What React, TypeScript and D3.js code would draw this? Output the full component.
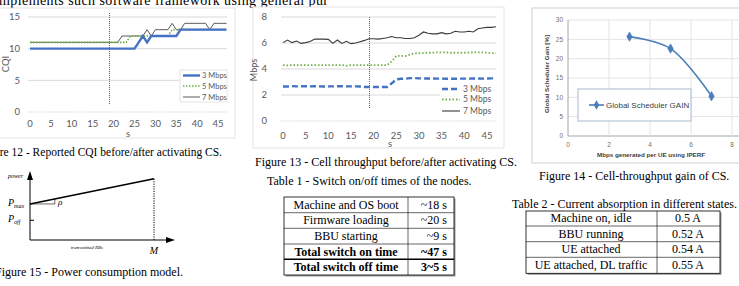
import React from 'react';
import * as d3 from 'd3';

// ---- data ----
const seconds = d3.range(0, 48);
const secondTicks = [0, 5, 10, 15, 20, 25, 30, 35, 40, 45];
const activationSecond = 19;

const cqiTicks = [0, 5, 10, 15];
const cqi3 = [10, 10, 10, 10, 10, 10, 10, 10, 10, 10, 10, 10, 10, 10, 10, 10, 10, 10, 10, 10, 10, 10, 10, 10, 10, 10,
  11, 12, 11, 12, 12, 12, 12, 12, 12, 12, 13, 13, 13, 13, 13, 13, 13, 13, 13, 13, 13, 13];
const cqi5 = [11, 11, 11, 11, 11, 11, 11, 11, 11, 11, 11, 11, 11, 11, 11, 11, 11, 11, 11, 11, 11, 11, 11, 11,
  12, 12, 12, 12, 12, 12, 12, 12, 12, 12, 13, 13, 13, 13, 13, 13, 13, 13, 13, 13, 13, 13, 13, 13];
const cqi7 = [11, 11, 11, 11, 11, 11, 11, 11, 11, 11, 11, 11, 11, 11, 11, 11, 11, 11, 11, 11, 11, 11,
  12, 12, 12, 12, 12, 12, 13, 12, 13, 13, 13, 13, 14, 13, 13, 14, 14, 14, 14, 14, 14, 13, 14, 14, 14, 14];

const mbpsTicks = [0, 2, 4, 6, 8];
const tput3 = [2.65, 2.65, 2.68, 2.66, 2.67, 2.68, 2.66, 2.68, 2.66, 2.65, 2.66, 2.66, 2.67, 2.68, 2.66, 2.66, 2.66, 2.65,
  2.62, 2.62, 2.62, 2.62, 2.62, 2.62, 2.9, 3.2, 3.25, 3.25, 3.3, 3.3, 3.28, 3.27, 3.27, 3.27, 3.26, 3.26, 3.25, 3.25,
  3.25, 3.26, 3.26, 3.26, 3.27, 3.27, 3.26, 3.27, 3.28, 3.28];
const tput5 = [4.3, 4.28, 4.3, 4.3, 4.3, 4.3, 4.3, 4.3, 4.3, 4.3, 4.3, 4.3, 4.3, 4.3, 4.25, 4.3, 4.3, 4.3, 4.3, 4.3,
  4.3, 4.3, 4.3, 4.3, 4.6, 5.0, 5.02, 5.0, 5.1, 5.2, 5.22, 5.22, 5.25, 5.25, 5.28, 5.28, 5.27, 5.25, 5.25, 5.25, 5.25,
  5.27, 5.27, 5.28, 5.28, 5.25, 5.22, 5.2];
const tput7 = [6.03, 6.23, 6.03, 6.15, 5.97, 6.03, 6.12, 6.3, 6.3, 6.3, 6.28, 5.97, 6.23, 5.97, 6.13, 5.95, 6.0, 6.1,
  6.2, 6.33, 6.33, 6.3, 6.35, 6.4, 6.5, 6.4, 6.4, 6.35, 6.35, 6.4, 6.6, 6.85, 6.75, 6.7, 6.7, 6.8, 6.7, 6.75, 6.9, 6.85,
  6.85, 6.9, 6.85, 7.1, 7.15, 7.2, 7.2, 7.25];

const gainTicksX = [0, 2, 4, 6, 8];
const gainTicksY = [0, 5, 10, 15, 20, 25, 30];
const gainMbps = [3, 5, 7];
const gainPct = [25.7, 22.6, 10.3];

const seriesNames = ['3 Mbps', '5 Mbps', '7 Mbps'];

const table1 = [
  ['Machine and OS boot', '~18 s'],
  ['Firmware loading', '~20 s'],
  ['BBU starting', '~9 s'],
  ['Total switch on time', '~47 s'],
  ['Total switch off time', '3~5 s'],
];
const table2 = [
  ['Machine on, idle', '0.5 A'],
  ['BBU running', '0.52 A'],
  ['UE attached', '0.54 A'],
  ['UE attached, DL traffic', '0.55 A'],
];

// power model: normalised power at 0 and at full load
const modelLoad = [0, 1];
const modelPower = [0.53, 0.9];
const modelPoff = 0.29;

const SERIF = '"Liberation Serif", "Times New Roman", serif';
const SANS = 'Lato, "Open Sans", sans-serif';
const ARIAL = '"Liberation Sans", Arial, sans-serif';
const GRID = '#d9d9d9';
const TICK = '#595959';
const BLUE = '#4472c4';
const GREEN = '#70ad47';
const MARKER_RED = '#ff1a1a';

const CqiChart = () => {
  const x = d3.scaleLinear().domain([0, 47]).range([30, 226.5]);
  const y = d3.scaleLinear().domain([0, 15]).range([112, 17]);
  const line = (vals: number[]) => d3.line<number>().x((d, i) => x(seconds[i])).y(d => y(d))(vals) || '';
  const ax = Math.round(x(activationSecond)) + 0.5;
  return (
    <g>
      <rect x={-2} y={8} width={237} height={130} fill="#fff" stroke="#e4e4e4" />
      {cqiTicks.map(t => (
        <g key={t}>
          <line x1={28} x2={227} y1={y(t)} y2={y(t)} stroke={GRID} strokeWidth={1} strokeDasharray={t === 0 ? '1.5,1' : undefined} />
          <text x={20} y={y(t)} dy="0.35em" textAnchor="end" fontSize={9.5} fill={TICK} fontFamily={SANS}>{t}</text>
        </g>
      ))}
      {secondTicks.map(t => (
        <text key={t} x={x(t)} y={124} dy="0.35em" textAnchor="middle" fontSize={9.5} fill={TICK} fontFamily={SANS}>{t}</text>
      ))}
      <text transform="translate(6,64) rotate(-90)" textAnchor="middle" dy="0.35em" fontSize={9.5} fill={TICK} fontFamily={SANS}>CQI</text>
      <text x={128} y={134} dy="0.35em" textAnchor="middle" fontSize={9.5} fill={TICK} fontFamily={SANS}>s</text>
      <line x1={ax} x2={ax} y1={13} y2={105} stroke={MARKER_RED} strokeWidth={1} strokeDasharray="1,1" />
      <path d={line(cqi7)} fill="none" stroke="#595959" strokeWidth={1} />
      <path d={line(cqi5)} fill="none" stroke={GREEN} strokeWidth={1.6} strokeDasharray="1.5,1.5" />
      <path d={line(cqi3)} fill="none" stroke={BLUE} strokeWidth={2.4} />
      <rect x={180} y={70} width={47} height={32} fill="#fff" stroke="#e4e4e4" />
      {seriesNames.map((n, i) => {
        const ly = [75.5, 86, 97][i];
        return (
          <g key={n}>
            <line x1={183} x2={200} y1={ly} y2={ly}
              stroke={[BLUE, GREEN, '#595959'][i]} strokeWidth={[2.4, 1.6, 1][i]} strokeDasharray={i === 1 ? '1.5,1.5' : undefined} />
            <text x={202} y={ly} dy="0.35em" fontSize={7.5} fill={TICK} fontFamily={SANS}>{n}</text>
          </g>
        );
      })}
    </g>
  );
};

const ThroughputChart = () => {
  const x = d3.scaleLinear().domain([0, 47]).range([283, 496]);
  const y = d3.scaleLinear().domain([0, 8]).range([121, 17]);
  const line = (vals: number[]) => d3.line<number>().x((d, i) => x(seconds[i])).y(d => y(d))(vals) || '';
  const ax = Math.round(x(activationSecond)) + 0.5;
  return (
    <g>
      <rect x={253} y={7} width={251} height={141} fill="#fff" stroke="#e4e4e4" />
      {mbpsTicks.map(t => (
        <g key={t}>
          <line x1={281} x2={496} y1={y(t)} y2={y(t)} stroke={GRID} strokeWidth={1} strokeDasharray={t === 0 ? '1.5,1' : undefined} />
          <text x={267} y={y(t)} dy="0.35em" textAnchor="end" fontSize={9.5} fill={TICK} fontFamily={SANS}>{t}</text>
        </g>
      ))}
      {secondTicks.map(t => (
        <text key={t} x={x(t)} y={136} dy="0.35em" textAnchor="middle" fontSize={9.5} fill={TICK} fontFamily={SANS}>{t}</text>
      ))}
      <text transform="translate(254,70) rotate(-90)" textAnchor="middle" dy="0.35em" fontSize={9} fill={TICK} fontFamily={SANS}>Mbps</text>
      <text x={390} y={144} dy="0.35em" textAnchor="middle" fontSize={9.5} fill={TICK} fontFamily={SANS}>s</text>
      <line x1={ax} x2={ax} y1={17} y2={108} stroke={MARKER_RED} strokeWidth={1} strokeDasharray="1,1" />
      <path d={line(tput7)} fill="none" stroke="#3a3a3a" strokeWidth={1.1} />
      <path d={line(tput5)} fill="none" stroke={GREEN} strokeWidth={1.8} strokeDasharray="1.5,2" />
      <path d={line(tput3)} fill="none" stroke={BLUE} strokeWidth={2.4} strokeDasharray="6,3" />
      <rect x={440} y={83} width={59} height={33} fill="#fff" />
      {seriesNames.map((n, i) => {
        const ly = [89, 99.5, 111][i];
        return (
          <g key={n}>
            <line x1={442} x2={460} y1={ly} y2={ly}
              stroke={[BLUE, GREEN, '#3a3a3a'][i]} strokeWidth={[2.4, 1.8, 1.1][i]}
              strokeDasharray={i === 0 ? '6,3' : i === 1 ? '1.5,2' : undefined} />
            <text x={463} y={ly} dy="0.35em" fontSize={8.5} fill={TICK} fontFamily={SANS}>{n}</text>
          </g>
        );
      })}
    </g>
  );
};

const GainChart = () => {
  const x = d3.scaleLinear().domain([0, 8]).range([568, 732]);
  const y = d3.scaleLinear().domain([0, 30]).range([136, 20]);
  const pts = gainMbps.map((m, i) => [x(m), y(gainPct[i])] as [number, number]);
  const path = d3.line().curve(d3.curveCatmullRom.alpha(0.5))(pts) || '';
  const diamond = d3.symbol().type(d3.symbolDiamond).size(26)() || '';
  const col = '#4a7ebb';
  return (
    <g>
      <rect x={532} y={8} width={215} height={155} fill="#fff" stroke="#d0d0d0" />
      {gainTicksY.map(t => (
        <g key={t}>
          <line x1={568} x2={739} y1={y(t)} y2={y(t)} stroke={t === 0 ? '#a6a6a6' : '#e3e3e3'} strokeWidth={1} />
          <text x={563} y={y(t)} dy="0.35em" textAnchor="end" fontSize={6.5} fill="#707070" fontFamily={ARIAL}>{t}</text>
        </g>
      ))}
      {gainTicksX.map(t => (
        <g key={t}>
          <line x1={x(t)} x2={x(t)} y1={20} y2={136} stroke={t === 0 ? '#a6a6a6' : '#e3e3e3'} strokeWidth={1} />
          <text x={x(t)} y={145} dy="0.35em" textAnchor="middle" fontSize={6.5} fill="#707070" fontFamily={ARIAL}>{t}</text>
        </g>
      ))}
      <text transform="translate(547,74) rotate(-90)" textAnchor="middle" dy="0.35em" fontSize={6} fontWeight="bold"
        fill="#404040" fontFamily={ARIAL} textLength={78} lengthAdjust="spacingAndGlyphs">Global Scheduler Gain [%]</text>
      <text x={651} y={155} dy="0.35em" textAnchor="middle" fontSize={6} fontWeight="bold" fill="#404040"
        fontFamily={ARIAL} textLength={108} lengthAdjust="spacingAndGlyphs">Mbps generated per UE using IPERF</text>
      <path d={path} fill="none" stroke={col} strokeWidth={1.6} />
      {pts.map((p, i) => (
        <path key={i} d={diamond} transform={`translate(${p[0]},${p[1]})`} fill={col} stroke={col} strokeWidth={0.6} />
      ))}
      <rect x={578} y={89} width={113} height={32} fill="#fff" stroke="#a9b8cc" />
      <line x1={589} x2={604} y1={105} y2={105} stroke={col} strokeWidth={1.6} />
      <path d={diamond} transform="translate(596.5,105)" fill={col} />
      <text x={606} y={105} dy="0.35em" fontSize={8} fill="#404040" fontFamily={ARIAL}>Global Scheduler GAIN</text>
    </g>
  );
};

const PowerModel = () => {
  const x = d3.scaleLinear().domain([0, 1]).range([30, 154]);
  const y = d3.scaleLinear().domain([0, 1]).range([240, 172]);
  const slope = d3.line<number>().x((d, i) => x(modelLoad[i])).y(d => y(d))(modelPower) || '';
  const triX = x(0.2);
  const triY = y(modelPower[0] + (modelPower[1] - modelPower[0]) * 0.2);
  return (
    <g fontFamily={SERIF} fill="#000">
      <line x1={30} x2={30} y1={177} y2={240} stroke="#000" strokeWidth={1} />
      <path d="M30,171 L27,180 L33,180 Z" />
      <line x1={30} x2={168} y1={240} y2={240} stroke="#000" strokeWidth={1} />
      <path d="M175,240 L166,237 L166,243 Z" />
      <path d={slope} fill="none" stroke="#000" strokeWidth={1.6} />
      <line x1={x(1)} x2={x(1)} y1={y(modelPower[1])} y2={240} stroke="#000" strokeWidth={1} strokeDasharray="1.2,1.2" />
      <path d={`M${x(0)},${y(modelPower[0])} H${triX} V${triY}`} fill="none" stroke="#000" strokeWidth={0.6} />
      <line x1={30} x2={34} y1={y(modelPoff)} y2={y(modelPoff)} stroke="#000" strokeWidth={1} />
      <text x={8} y={178} fontSize={6} fontStyle="italic">power</text>
      <text x={8} y={206} fontSize={10} fontStyle="italic">P<tspan fontSize={6} dy={1.5}>max</tspan></text>
      <text x={8} y={222} fontSize={10} fontStyle="italic">P<tspan fontSize={6} dy={1.5}>off</tspan></text>
      <text x={58} y={205} fontSize={9} fontStyle="italic">ρ</text>
      <text x={87} y={249} fontSize={5} fontStyle="italic" textAnchor="middle">transmitted RBs</text>
      <text x={154} y={254} fontSize={10} fontStyle="italic" textAnchor="middle">M</text>
    </g>
  );
};

const Table = ({ rows, left, mid, right, lines, col1, col2, col2Anchor, boldFrom, thickAt }:
  { rows: string[][]; left: number; mid: number; right: number; lines: number[]; col1: number; col2: number;
    col2Anchor: 'middle' | 'end'; boldFrom: number; thickAt: number }) => {
  const top = lines[0];
  const bottom = lines[lines.length - 1];
  return (
    <g fontFamily={SERIF} fontSize={12}>
      <rect x={left + 1.5} y={top + 1.5} width={right - left} height={bottom - top} fill="#9a9a9a" />
      <rect x={left} y={top} width={right - left} height={bottom - top} fill="#fff" stroke="#000" strokeWidth={0.8} />
      {lines.slice(1, -1).map((ly, i) => (
        <line key={i} x1={left} x2={right} y1={ly} y2={ly} stroke="#000" strokeWidth={i + 1 === thickAt ? 1.6 : 0.6} />
      ))}
      <line x1={mid} x2={mid} y1={top} y2={bottom} stroke="#000" strokeWidth={0.6} />
      {rows.map((r, i) => {
        const cy = (lines[i] + lines[i + 1]) / 2;
        const bold = i >= boldFrom ? 'bold' : 'normal';
        return (
          <g key={i} fontWeight={bold}>
            <text x={col1} y={cy} dy="0.33em" textAnchor="middle">{r[0]}</text>
            <text x={col2} y={cy} dy="0.33em" textAnchor={col2Anchor}>{r[1]}</text>
          </g>
        );
      })}
    </g>
  );
};

const App = () => (
  <svg width={739} height={286} viewBox="0 0 739 286"
    style={{ position: 'absolute', left: 0, top: 0, background: '#fff', display: 'block' }}>
    <rect width={739} height={286} fill="#fff" />
    <text x={-1} y={4.5} fontFamily={SERIF} fontSize={14} textLength={329} lengthAdjust="spacing">
      mplements such software framework using general pur
    </text>
    <CqiChart />
    <ThroughputChart />
    <GainChart />
    <PowerModel />
    <g fontFamily={SERIF} fontSize={12} fill="#000">
      <text x={222} y={156} textAnchor="end" fontSize={11.5}>Figure 12 - Reported CQI before/after activating CS.</text>
      <text x={255} y={166}>Figure 13 - Cell throughput before/after activating CS.</text>
      <text x={539} y={180}>Figure 14 - Cell-throughput gain of CS.</text>
      <text x={267} y={185}>Table 1 - Switch on/off times of the nodes.</text>
      <text x={512} y={208}>Table 2 - Current absorption in different states.</text>
      <text x={183} y={276} textAnchor="end">Figure 15 - Power consumption model.</text>
    </g>
    <Table rows={table1} left={284} mid={408} right={454} lines={[197, 212.7, 228.3, 244, 259.3, 275]}
      col1={346} col2={447} col2Anchor="end" boldFrom={3} thickAt={4} />
    <Table rows={table2} left={526} mid={657} right={720} lines={[211, 226, 241.7, 257.3, 273.3]}
      col1={591} col2={688} col2Anchor="middle" boldFrom={99} thickAt={-1} />
  </svg>
);

export default App;
